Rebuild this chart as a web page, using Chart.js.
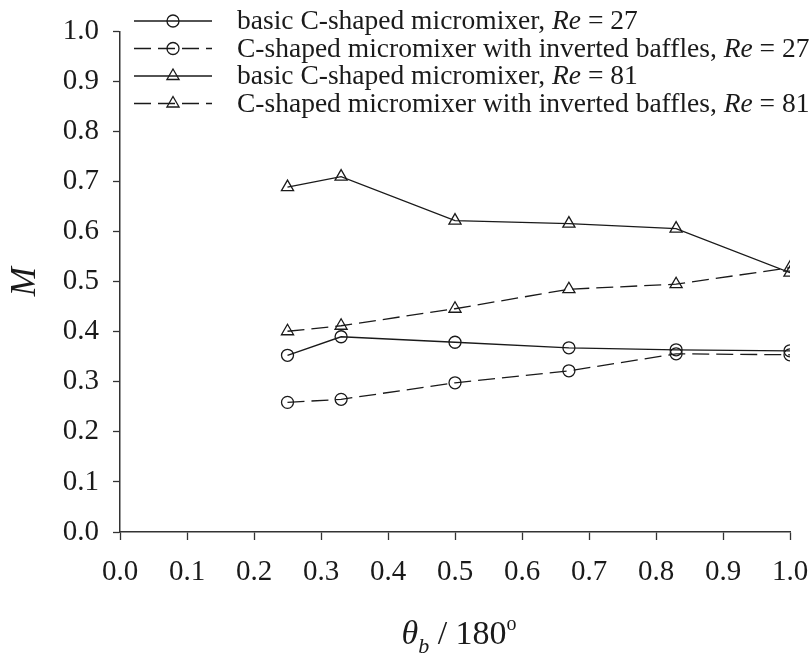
<!DOCTYPE html>
<html>
<head>
<meta charset="utf-8">
<script src="https://cdn.jsdelivr.net/npm/chart.js@4.4.1/dist/chart.umd.min.js"></script>
<style>
  html, body { margin: 0; padding: 0; background: #fff; }
  #wrap { width: 812px; height: 653px; position: relative; }
</style>
</head>
<body>
<div id="wrap"><canvas id="mixChart"></canvas></div>
<script>
'use strict';

// ── data ─────────────────────────────────────────────────────────────────────

const thetaRatio   = [0.25, 0.33, 0.50, 0.67, 0.83, 1.00];
const basicRe27    = [0.353, 0.390, 0.379, 0.368, 0.364, 0.362];
const invertedRe27 = [0.259, 0.265, 0.298, 0.322, 0.356, 0.354];
const basicRe81    = [0.689, 0.710, 0.622, 0.616, 0.606, 0.518];
const invertedRe81 = [0.401, 0.412, 0.446, 0.485, 0.495, 0.528];

const legendLabels = [
  ['basic C-shaped micromixer, ', 'Re', ' = 27'],
  ['C-shaped micromixer with inverted baffles, ', 'Re', ' = 27'],
  ['basic C-shaped micromixer, ', 'Re', ' = 81'],
  ['C-shaped micromixer with inverted baffles, ', 'Re', ' = 81'],
];

// ── style ────────────────────────────────────────────────────────────────────

const INK   = '#1a1a1a';
const AXIS  = '#333';
const SERIF = '"Liberation Serif", "Times New Roman", serif';
const DASH  = [17, 7];
const LEGEND_PX = 27.5;

function series(label, values, marker, dashed) {
  return {
    label,
    data: thetaRatio.map((x, i) => ({ x, y: values[i] })),
    borderColor: INK, borderWidth: 1.3,
    borderDash: dashed ? DASH : [],
    pointStyle: marker,
    pointRadius: marker === 'triangle' ? 7 : 6,
    pointBorderWidth: 1.3,
    pointBorderColor: INK,
    pointBackgroundColor: 'rgba(0,0,0,0)',
    tension: 0, fill: false,
  };
}

// legend block drawn inside the plot area, with line + marker samples
const insideLegend = {
  id: 'insideLegend',
  afterDraw(chart) {
    const ctx = chart.ctx;
    const sets = chart.data.datasets;
    ctx.save();
    ctx.textBaseline = 'middle';
    sets.forEach((ds, i) => {
      const y = 21 + i * 27.5;
      const x0 = 134, x1 = 212, xm = (x0 + x1) / 2;
      ctx.strokeStyle = ds.borderColor;
      ctx.lineWidth = ds.borderWidth;
      ctx.setLineDash(ds.borderDash);
      ctx.beginPath(); ctx.moveTo(x0, y); ctx.lineTo(x1, y); ctx.stroke();
      ctx.setLineDash([]);
      ctx.fillStyle = 'rgba(0,0,0,0)';
      ctx.lineWidth = ds.pointBorderWidth;
      Chart.helpers.drawPoint(ctx, {
        pointStyle: ds.pointStyle, radius: ds.pointRadius,
        borderWidth: ds.pointBorderWidth,
      }, xm, y);

      let x = 237;
      ctx.fillStyle = INK;
      legendLabels[i].forEach((part, k) => {
        ctx.font = (k === 1 ? 'italic ' : '') + `${LEGEND_PX}px ${SERIF}`;
        ctx.fillText(part, x, y + 1);
        x += ctx.measureText(part).width;
      });
    });
    ctx.restore();
  },
};

// x title with subscript and superscript
const xTitle = {
  id: 'xTitle',
  afterDraw(chart) {
    const ctx = chart.ctx;
    const a = chart.chartArea;
    const parts = [
      { t: '\u03b8', f: `italic 34px ${SERIF}`, dy: 0 },
      { t: 'b',      f: `italic 22px ${SERIF}`, dy: 9 },
      { t: ' / 180', f: `34px ${SERIF}`, dy: 0 },
      { t: 'o',      f: `20px ${SERIF}`, dy: -14 },
    ];
    ctx.save();
    ctx.textBaseline = 'alphabetic';
    let total = 0;
    parts.forEach(p => { ctx.font = p.f; total += ctx.measureText(p.t).width; });
    let x = (a.left + a.right) / 2 - total / 2 + 4;
    const base = 644;
    ctx.fillStyle = INK;
    parts.forEach(p => {
      ctx.font = p.f;
      ctx.fillText(p.t, x, base + p.dy);
      x += ctx.measureText(p.t).width;
    });
    ctx.restore();
  },
};

// ── chart ────────────────────────────────────────────────────────────────────

const tickFont = { family: SERIF, size: 29 };

new Chart(document.getElementById('mixChart'), {
  type: 'line',
  data: {
    datasets: [
      series('basic Re27', basicRe27, 'circle', false),
      series('inverted Re27', invertedRe27, 'circle', true),
      series('basic Re81', basicRe81, 'triangle', false),
      series('inverted Re81', invertedRe81, 'triangle', true),
    ],
  },
  options: {
    responsive: true, maintainAspectRatio: false, animation: false,
    layout: { padding: { top: 18, right: 22, left: 0, bottom: 0 } },
    plugins: { legend: { display: false }, tooltip: { enabled: false } },
    scales: {
      x: {
        type: 'linear', min: 0, max: 1,
        afterFit: s => { s.height = 121; s.paddingRight = 0; s.paddingLeft = 0; },
        ticks: { stepSize: 0.1, color: INK, font: tickFont, padding: 15,
                 maxRotation: 0, autoSkip: false,
                 callback: v => v.toFixed(1) },
        grid: { drawOnChartArea: false, tickLength: 8, tickColor: AXIS, tickWidth: 1.3 },
        border: { color: AXIS, width: 1.5 },
      },
      y: {
        type: 'linear', min: 0, max: 1,
        afterFit: s => { s.width = 120; },
        ticks: { stepSize: 0.1, color: INK, font: tickFont, padding: 14,
                 callback: v => v.toFixed(1) },
        grid: { drawOnChartArea: false, tickLength: 7, tickColor: AXIS, tickWidth: 1.3 },
        border: { color: AXIS, width: 1.5 },
        title: { display: true, text: 'M', color: INK,
                 font: { family: SERIF, size: 35, style: 'italic' },
                 padding: { top: 5, bottom: 0 } },
      },
    },
  },
  plugins: [insideLegend, xTitle],
});
</script>
</body>
</html>
